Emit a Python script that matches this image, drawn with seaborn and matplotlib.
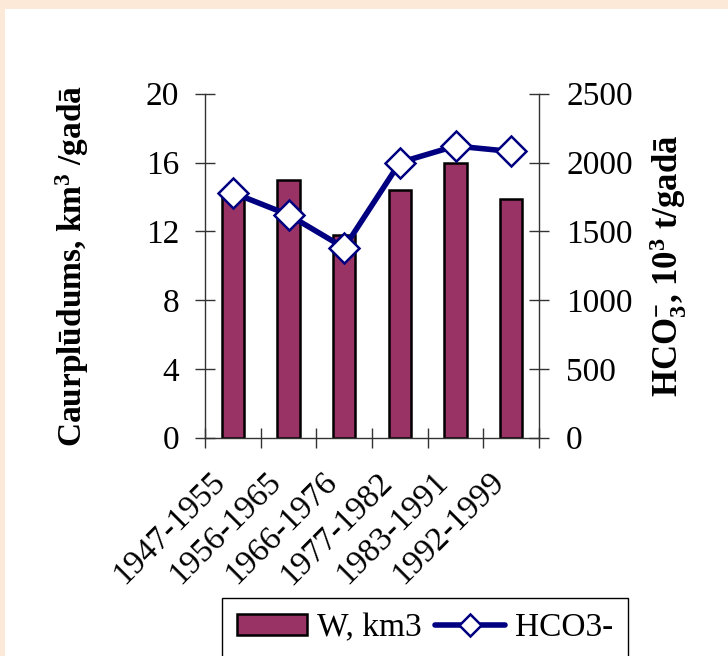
import numpy as np
import pandas as pd
import matplotlib
matplotlib.use("Agg")
import matplotlib.pyplot as plt
from matplotlib.patches import Rectangle, Patch
from matplotlib.lines import Line2D
from matplotlib.transforms import ScaledTranslation
import seaborn as sns

# Data
periods = ["1947-1955", "1956-1965", "1966-1976", "1977-1982", "1983-1991", "1992-1999"]
runoff_km3 = [14.4, 15.0, 11.8, 14.4, 16.0, 13.9]
hco3_kt = [1780, 1620, 1380, 2000, 2120, 2080]
left_ticks = [0, 4, 8, 12, 16, 20]
right_ticks = [0, 500, 1000, 1500, 2000, 2500]

BAR_COLOR = "#993366"
LINE_COLOR = "#000080"
SPINE_COLOR = "#333333"

sns.set_style("white")
plt.rcParams["font.family"] = ["Liberation Serif", "DejaVu Serif"]
plt.rcParams["text.color"] = "black"
plt.rcParams["axes.labelcolor"] = "black"
plt.rcParams["xtick.color"] = "black"
plt.rcParams["ytick.color"] = "black"
plt.rcParams["mathtext.fontset"] = "custom"
plt.rcParams["mathtext.rm"] = "Liberation Serif:bold"
plt.rcParams["mathtext.it"] = "Liberation Serif:bold"
plt.rcParams["mathtext.bf"] = "Liberation Serif:bold"

W, H, DPI = 728, 656, 100
fig = plt.figure(figsize=(W / DPI, H / DPI), dpi=DPI, facecolor="#FDE9D8")
# white panel inside the peach frame
fig.patches.append(Rectangle((5 / W, 0), 1, 1 - 9 / H, transform=fig.transFigure,
                             facecolor="white", edgecolor="none", zorder=-10))

ax = fig.add_axes([205 / W, 1 - 437.7 / H, 334 / W, 344 / H])
ax.set_facecolor("none")

df = pd.DataFrame({"period": periods, "W": runoff_km3, "HCO3": hco3_kt})

sns.barplot(data=df, x="period", y="W", color=BAR_COLOR, saturation=1, width=0.4,
            edgecolor="black", linewidth=1.8, ax=ax)

ax2 = ax.twinx()
ax2.set_facecolor("none")
sns.lineplot(data=df, x="period", y="HCO3", sort=False, color=LINE_COLOR, lw=4.0,
             marker="D", markersize=15, markerfacecolor="white",
             markeredgecolor=LINE_COLOR, markeredgewidth=1.8, ax=ax2)

# Axis ranges
ax.set_xlim(-0.5, len(periods) - 0.5)
ax.set_ylim(0, 20)
ax2.set_ylim(0, 2500)

# Spines
for a in (ax, ax2):
    for s in a.spines.values():
        s.set_visible(False)
ax.spines["left"].set_visible(True)
ax.spines["bottom"].set_visible(True)
ax2.spines["right"].set_visible(True)
for s in (ax.spines["left"], ax.spines["bottom"], ax2.spines["right"]):
    s.set_color(SPINE_COLOR)
    s.set_linewidth(1.0)

# Y ticks
ax.set_yticks(left_ticks)
ax.tick_params(axis="y", direction="inout", length=15, width=1.0, color=SPINE_COLOR,
               labelcolor="black", labelsize=24, pad=11, left=True)
ax2.set_yticks(right_ticks)
ax2.tick_params(axis="y", direction="inout", length=15, width=1.0, color=SPINE_COLOR,
                labelcolor="black", labelsize=24, pad=12, right=True)

# X ticks: labels at category centers, tick marks at category boundaries
ax.set_xticks(range(len(periods)))
ax.set_xticklabels(periods, rotation=45, ha="right", va="top", rotation_mode="anchor")
ax.set_xticks(np.arange(-0.5, len(periods)), minor=True)
ax.tick_params(axis="x", which="major", length=0, labelsize=24, pad=21, labelcolor="black")
ax.tick_params(axis="x", which="minor", direction="inout", length=15, width=1.0,
               color=SPINE_COLOR, bottom=True)
for lbl in ax.get_xticklabels():
    lbl.set_transform(lbl.get_transform() + ScaledTranslation(-0.23, 0, fig.dpi_scale_trans))
ax2.tick_params(axis="x", which="both", bottom=False, top=False, labelbottom=False)
ax.set_xlabel("")
ax2.set_xlabel("")

# Axis titles
ax.set_ylabel("Caurplūdums, km$^{3}$ /gadā", fontsize=24, fontweight="bold", color="black")
ax.yaxis.label.set(va="center", ha="center")
ax.yaxis.set_label_coords((72 - 205) / 334, 0.5)
ax2.set_ylabel("HCO$_{3}^{-}$, 10$^{3}$ t/gadā", fontsize=25, fontweight="bold",
               rotation=90, color="black")
ax2.yaxis.label.set(va="center", ha="center")
ax2.yaxis.set_label_coords((668 - 205) / 334, 0.5)

# Legend
handles = [
    Patch(facecolor=BAR_COLOR, edgecolor="black", linewidth=1.8, label="W, km3"),
    Line2D([], [], color=LINE_COLOR, lw=4.0, marker="D", markersize=11,
           markerfacecolor="white", markeredgecolor=LINE_COLOR, markeredgewidth=1.8,
           label="HCO3-"),
]
leg = fig.legend(handles=handles, loc="upper left", bbox_to_anchor=(222 / W, 1 - 598 / H),
                 ncol=2, fontsize=24, frameon=True, fancybox=False, framealpha=1,
                 edgecolor="black", borderpad=0.45, handlelength=2.1, handleheight=0.6,
                 handletextpad=0.3, columnspacing=0.4, borderaxespad=0)
leg.get_frame().set_linewidth(1.0)
for t in leg.get_texts():
    t.set_color("black")

fig.savefig("out.png", dpi=DPI, facecolor=fig.get_facecolor())
